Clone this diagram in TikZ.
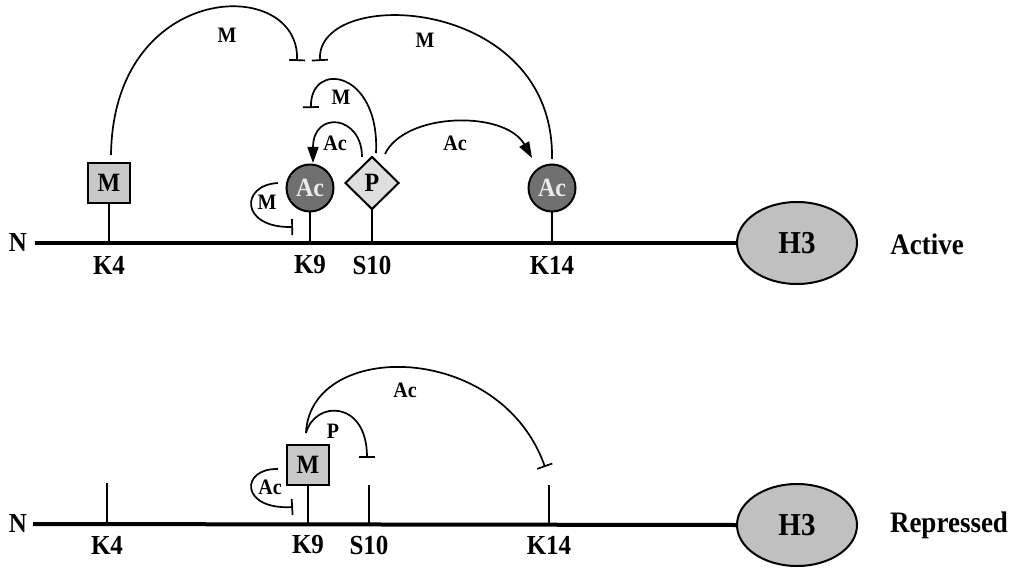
\documentclass[tikz,border=0pt]{standalone}
\usepackage{fontspec}
\setmainfont{Liberation Serif}
\usetikzlibrary{arrows.meta,shapes.geometric}
\definecolor{boxgray}{RGB}{200,200,200}
\definecolor{acgray}{RGB}{112,112,112}
\definecolor{diagray}{RGB}{222,222,222}
\definecolor{hgray}{RGB}{192,192,192}
\definecolor{actext}{RGB}{235,235,235}
\newcommand{\vst}[1]{\scalebox{1}[1.1]{#1}}
\begin{document}
\begin{tikzpicture}[x=1pt,y=-1pt,
  lbl/.style={font=\fontsize{25}{25}\selectfont\bfseries, inner sep=0},
  small/.style={font=\fontsize{20}{20}\selectfont\bfseries, inner sep=0},
  big/.style={font=\fontsize{27}{27}\selectfont\bfseries, inner sep=0},
  backbone/.style={line width=4pt},
  tick/.style={line width=1.6pt},
  arc/.style={line width=1.7pt},
  inh/.style={arc, -{Bar[width=16pt]}},
  act/.style={arc, -{Triangle[length=16pt,width=11pt]}},
  mbox/.style={draw, line width=2pt, fill=boxgray, minimum width=42pt, minimum height=40pt, inner sep=0, font=\fontsize{24}{24}\selectfont\bfseries},
  acc/.style={circle, draw, line width=2pt, fill=acgray, minimum size=47pt, inner sep=0, text=actext, font=\fontsize{24}{24}\selectfont\bfseries},
  pdia/.style={diamond, draw, line width=2pt, fill=diagray, minimum width=54pt, minimum height=53pt, inner sep=0, font=\fontsize{24}{24}\selectfont\bfseries},
  h3/.style={ellipse, draw, line width=2pt, fill=hgray, minimum width=120pt, minimum height=82pt, inner sep=0, font=\fontsize{29}{29}\selectfont\bfseries}
]
\useasboundingbox (0,0) rectangle (1019,569);

% ---------------- Active (top) ----------------
\node[h3] (h3a) at (797,243) {\vst{H3}};
\node[big] (acttxt) at (927,244) {\vst{Active}};
\node[lbl] (na) at (18,242) {\vst{N}};
\coordinate (ba0) at (35,243);
\draw[backbone] (ba0) -- (h3a.west);

\coordinate (ba4) at (109,243);
\coordinate (ba9) at (310,243);
\coordinate (ba10) at (372,243);
\coordinate (ba14) at (552,243);

\node[mbox] (m4) at (109,183) {\vst{M}};
\node[acc] (ac9) at (310,188) {\vst{Ac}};
\node[pdia] (p10) at (372,183) {\vst{P}};
\node[acc] (ac14) at (552,188) {\vst{Ac}};

\draw[tick] (m4.south) -- (ba4);
\draw[tick] (ac9.south) -- (ba9);
\draw[tick] (p10.south) -- (ba10);
\draw[tick] (ac14.south) -- (ba14);

\node[lbl] (k4a) at (109,265) {\vst{K4}};
\node[lbl] (k9a) at (310,265) {\vst{K9}};
\node[lbl] (s10a) at (372,265) {\vst{S10}};
\node[lbl] (k14a) at (552,265) {\vst{K14}};

\coordinate (s1) at (111,155);
\coordinate (e1) at (297,61);
\draw[inh] (s1) .. controls (113,-20) and (300,-25) .. (e1);
\node[small] (lm1) at (227,35) {\vst{M}};

\coordinate (s2) at (552,159);
\coordinate (e2) at (320,61);
\draw[inh] (s2) .. controls (555,-5) and (316,-15) .. (e2);
\node[small] (lm2) at (425,40) {\vst{M}};

\coordinate (s3) at (376,153);
\coordinate (e3) at (311,108);
\draw[inh] (s3) .. controls (380,70) and (310,60) .. (e3);
\node[small] (lm3) at (341,97) {\vst{M}};

\coordinate (s4) at (362,157);
\coordinate (e4) at (313,163);
\draw[act] (s4) .. controls (362,115) and (313,110) .. (e4);
\node[small] (lac4) at (335,143) {\vst{Ac}};

\coordinate (s5) at (385,154);
\coordinate (e5) at (532,158);
\draw[act] (s5) .. controls (405,112) and (505,110) .. (e5);
\node[small] (lac5) at (455,143) {\vst{Ac}};

\coordinate (s6) at (278,183);
\coordinate (e6) at (293,227);
\draw[inh] (s6) .. controls (240,185) and (240,228) .. (e6);
\node[small] (lm6) at (267,202) {\vst{M}};

% ---------------- Repressed (bottom) ----------------
\node[h3] (h3r) at (797,525) {\vst{H3}};
\node[big] (reptxt) at (949,525) {\vst{Repressed}};
\node[lbl] (nr) at (18,523) {\vst{N}};
\coordinate (br0) at (33,524);
\draw[backbone] (br0) -- (h3r.west);

\coordinate (br4) at (107,524);
\coordinate (br9) at (308,524);
\coordinate (br10) at (369,524);
\coordinate (br14) at (549,524);

\coordinate (t4) at (107,483);
\node[mbox] (mb9) at (308,465) {\vst{M}};
\coordinate (t10) at (369,485);
\coordinate (t14) at (549,485);

\draw[tick] (t4) -- (br4);
\draw[tick] (mb9.south) -- (br9);
\draw[tick] (t10) -- (br10);
\draw[tick] (t14) -- (br14);

\node[lbl] (k4r) at (107,545) {\vst{K4}};
\node[lbl] (k9r) at (308,545) {\vst{K9}};
\node[lbl] (s10r) at (369,545) {\vst{S10}};
\node[lbl] (k14r) at (549,545) {\vst{K14}};

\coordinate (sb) at (306,433);
\coordinate (eb1) at (367,458);
\draw[inh] (sb) .. controls (315,400) and (367,400) .. (eb1);
\node[small] (lp) at (333,431) {\vst{P}};

\coordinate (eb2) at (545,467);
\draw[inh] (sb) .. controls (310,340) and (500,340) .. (eb2);
\node[small] (lacb) at (405,390) {\vst{Ac}};

\coordinate (sb3) at (278,469);
\coordinate (eb3) at (293,507);
\draw[inh] (sb3) .. controls (240,468) and (240,510) .. (eb3);
\node[small] (lacs) at (270,487) {\vst{Ac}};
\end{tikzpicture}
\end{document}
